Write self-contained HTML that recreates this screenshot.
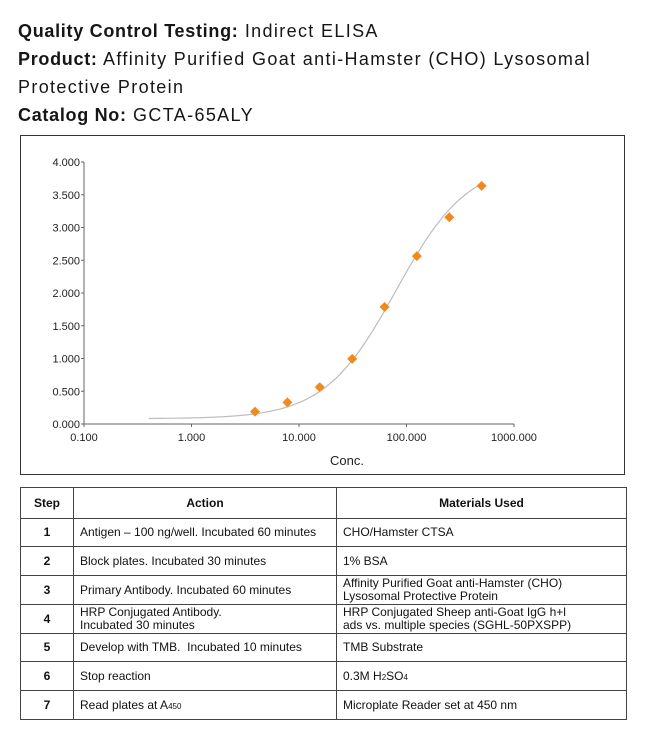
<!DOCTYPE html>
<html><head><meta charset="utf-8"><style>
body{margin:0;background:#fff;width:650px;height:743px;position:relative;font-family:"Liberation Sans",sans-serif;color:#111;overflow:hidden}
.hdr{position:absolute;left:18px;font-size:18px;line-height:28px;color:#161616;letter-spacing:1.35px;white-space:nowrap}
.hdr b{font-weight:bold;letter-spacing:0.7px}
#chartbox{position:absolute;left:20px;top:135px;width:605px;height:340px;border:1.5px solid #333;box-sizing:border-box}
table{position:absolute;left:20px;top:487px;width:607px;border-collapse:collapse;font-size:12px;color:#111}
td,th{border:1px solid #444;padding:0 6px;line-height:13px;text-align:left;vertical-align:middle}
th{height:30px;text-align:center;font-weight:bold}
td.s{text-align:center;font-weight:bold;width:40px}
sub{font-size:8px;vertical-align:baseline;line-height:0}
</style></head><body>
<div class="hdr" style="top:17px"><b>Quality Control Testing:</b> Indirect ELISA</div>
<div class="hdr" style="top:45px"><b>Product:</b> Affinity Purified Goat anti-Hamster (CHO) Lysosomal</div>
<div class="hdr" style="top:73px">Protective Protein</div>
<div class="hdr" style="top:101px"><b>Catalog No:</b> GCTA-65ALY</div>
<div id="chartbox"></div>
<svg id="chart" width="650" height="743" style="position:absolute;left:0;top:0" font-family="Liberation Sans, sans-serif"></svg>
<table>
<tr style="height:30px"><th style="width:40px">Step</th><th style="width:250px">Action</th><th>Materials Used</th></tr>
<tr style="height:28px"><td class="s">1</td><td>Antigen – 100 ng/well. Incubated 60 minutes</td><td>CHO/Hamster CTSA</td></tr>
<tr style="height:29px"><td class="s">2</td><td>Block plates. Incubated 30 minutes</td><td>1% BSA</td></tr>
<tr style="height:29px"><td class="s">3</td><td>Primary Antibody. Incubated 60 minutes</td><td>Affinity Purified Goat anti-Hamster (CHO)<br>Lysosomal Protective Protein</td></tr>
<tr style="height:29px"><td class="s">4</td><td>HRP Conjugated Antibody.<br>Incubated 30 minutes</td><td>HRP Conjugated Sheep anti-Goat IgG h+l<br>ads vs. multiple species (SGHL-50PXSPP)</td></tr>
<tr style="height:28px"><td class="s">5</td><td>Develop with TMB.&nbsp; Incubated 10 minutes</td><td>TMB Substrate</td></tr>
<tr style="height:29px"><td class="s">6</td><td>Stop reaction</td><td>0.3M H<sub>2</sub>SO<sub>4</sub></td></tr>
<tr style="height:29px"><td class="s">7</td><td>Read plates at A<sub>450</sub></td><td>Microplate Reader set at 450 nm</td></tr>
</table>
<script>
const conc=[3.9,7.8,15.6,31.25,62.5,125,250,500];
const od=[0.188,0.330,0.563,0.995,1.787,2.563,3.157,3.635];
const yTicks=[0,0.5,1,1.5,2,2.5,3,3.5,4];
const xTicks=[0.1,1,10,100,1000];
const fitBottom=0.08,fitTop=4.0,fitEC50=80,fitSlope=1.3,fitMin=0.4,fitMax=500;
const svg=document.getElementById('chart');const NS='http://www.w3.org/2000/svg';
const X0=84,X1=514,Y0=424,Y1=162;
const xs=v=>X0+(Math.log10(v)+1)/4*(X1-X0);
const ys=v=>Y0-v/4*(Y0-Y1);
function mk(t,a,p){const e=document.createElementNS(NS,t);for(const k in a)e.setAttribute(k,a[k]);(p||svg).appendChild(e);return e;}
let ax=mk('line',{x1:X0,y1:Y1,x2:X0,y2:Y0,stroke:'#666'});

ax=mk('line',{x1:X0,y1:Y0,x2:X1,y2:Y0,stroke:'#666'});

yTicks.forEach(v=>{const y=ys(v);mk('line',{x1:X0-3,y1:y,x2:X0,y2:y,stroke:'#666'});
 const t=mk('text',{x:X0-4,y:y+4,'text-anchor':'end','font-size':11,fill:'#222'});t.textContent=v.toFixed(3);
 });
xTicks.forEach(v=>{const x=xs(v);mk('line',{x1:x,y1:Y0,x2:x,y2:Y0+3,stroke:'#666'});
 const t=mk('text',{x:x,y:Y0+17,'text-anchor':'middle','font-size':11,fill:'#222'});t.textContent=v.toFixed(3);
 });
const xt=mk('text',{x:(X0+X1)/2+48,y:465,'text-anchor':'middle','font-size':13,fill:'#222'});xt.textContent='Conc.';

let d='';for(let i=0;i<=100;i++){const lv=Math.log10(fitMin)+i/100*(Math.log10(fitMax)-Math.log10(fitMin));const c=Math.pow(10,lv);
 const y=fitTop+(fitBottom-fitTop)/(1+Math.pow(c/fitEC50,fitSlope));d+=(i?'L':'M')+xs(c).toFixed(1)+','+ys(y).toFixed(1);}
const fl=mk('path',{d:d,fill:'none',stroke:'#bdbdbd','stroke-width':1.2});

conc.forEach((c,i)=>{const x=xs(c),y=ys(od[i]);
 const p=mk('polygon',{points:`${x},${y-5} ${x+5},${y} ${x},${y+5} ${x-5},${y}`,fill:'#f08a1c'});
 });
</script>
</body></html>
